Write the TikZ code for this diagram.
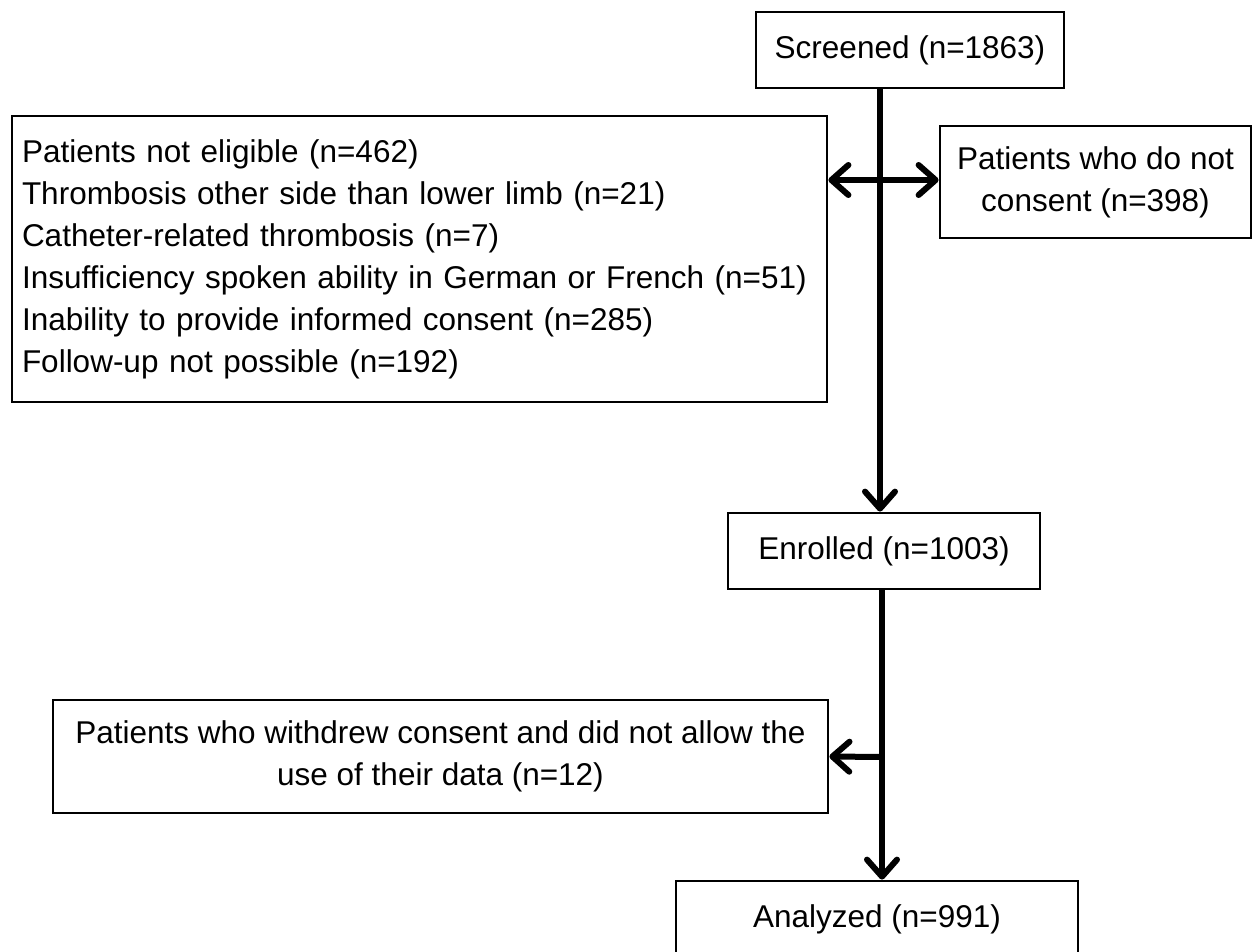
\documentclass[tikz,border=0pt]{standalone}
\usepackage{fontspec}
\setmainfont{Liberation Sans}
\usetikzlibrary{arrows.meta}
\begin{document}
\begin{tikzpicture}[x=1pt, y=-1pt,
    box/.style={draw, line width=2.8pt, inner sep=0pt, align=center,
      font=\fontsize{31.5}{42}\selectfont},
    flow/.style={line width=6pt, -{Straight Barb[length=17pt,width=30pt,round]}}]
    \useasboundingbox (0,0) rectangle (1253,952);

    \node [box, minimum width=308pt, minimum height=76pt] (screened) at (910,50)
      {Screened (n=1863)};
    \node [box, text width=795pt, inner xsep=10pt, minimum height=286pt, align=left]
      (noelig) at (419.5,259)
      {Patients not eligible (n=462)\\
       Thrombosis other side than lower limb (n=21)\\
       Catheter-related thrombosis (n=7)\\
       Insufficiency spoken ability in German or French (n=51)\\
       Inability to provide informed consent (n=285)\\
       Follow-up not possible (n=192)};
    \node [box, minimum width=311pt, minimum height=112pt] (noconsent) at (1095.5,182)
      {Patients who do not\\ consent (n=398)};
    \node [box, minimum width=312pt, minimum height=76pt] (enrolled) at (884,551)
      {Enrolled (n=1003)};
    \node [box, minimum width=775pt, minimum height=113pt] (withdrew) at (440.5,756.5)
      {Patients who withdrew consent and did not allow the\\ use of their data (n=12)};
    \node [box, minimum width=402pt, minimum height=76pt] (analyzed) at (877,919)
      {Analyzed (n=991)};

    \coordinate (split1) at (880,180);
    \coordinate (split2) at (882,757);

    \draw [flow] (screened.south -| split1) -- (enrolled.north -| split1);
    \draw [flow] (split1) -- (noelig.east |- split1);
    \draw [flow] (split1) -- (noconsent.west |- split1);
    \draw [flow] (enrolled.south -| split2) -- (analyzed.north -| split2);
    \draw [flow] (split2) -- (withdrew.east);

  \end{tikzpicture}
\end{document}
